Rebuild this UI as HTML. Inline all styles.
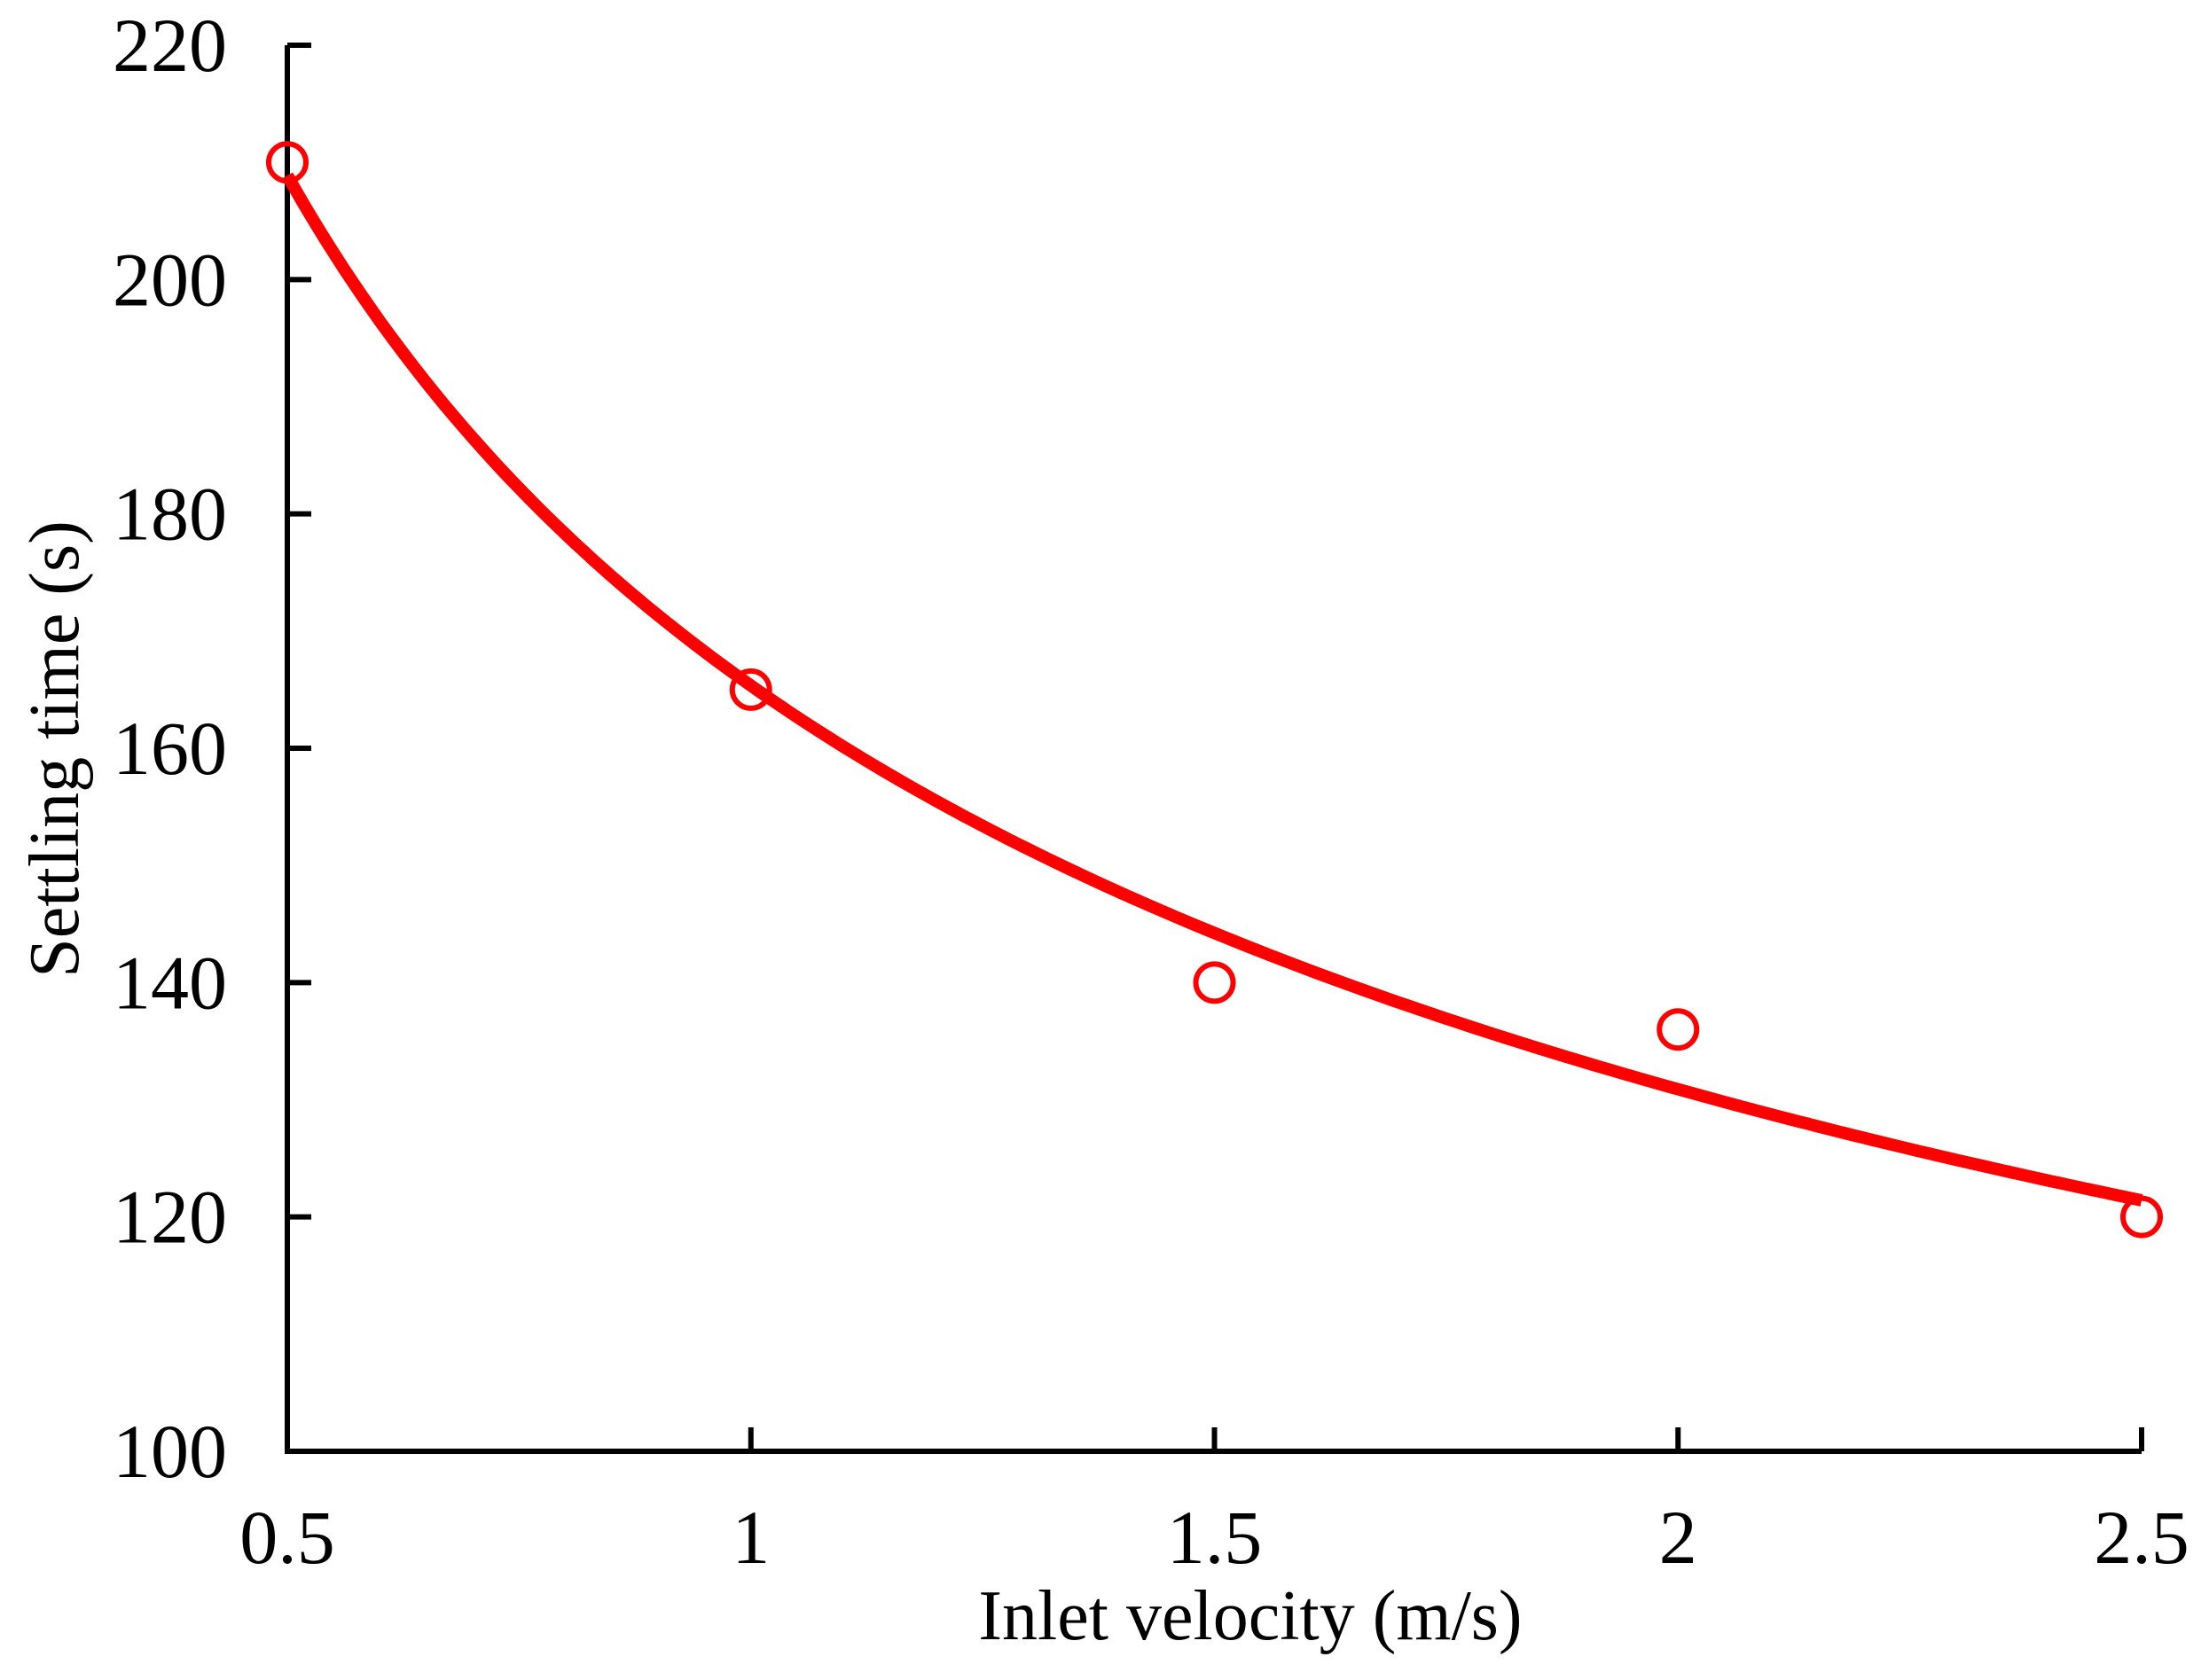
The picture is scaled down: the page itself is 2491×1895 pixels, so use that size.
<!DOCTYPE html>
<html><head><meta charset="utf-8"><style>
html,body{margin:0;padding:0;background:#fff;}
svg{display:block;font-family:"Liberation Serif","Times New Roman",serif;}
</style></head><body>
<svg id="chart" width="2491" height="1895" viewBox="0 0 2491 1895" xmlns="http://www.w3.org/2000/svg">
<g id="axes"></g>
<g id="plot"></g>
<text x="1410" y="1849" font-size="80" text-anchor="middle">Inlet velocity (m/s)</text>
<text transform="translate(88,845) rotate(-90)" font-size="80" text-anchor="middle">Settling time (s)</text>
</svg>
<script>
const xValues = [0.5, 1, 1.5, 2, 2.5];
const yValues = [210, 165, 140, 136, 120];
const xTicks = [0.5, 1, 1.5, 2, 2.5];
const xTickLabels = ["0.5", "1", "1.5", "2", "2.5"];
const yTicks = [100, 120, 140, 160, 180, 200, 220];
const yTickLabels = ["100", "120", "140", "160", "180", "200", "220"];

const L = 324, R = 2415, T = 51, B = 1637;
const xMin = 0.5, xMax = 2.5, yMin = 100, yMax = 220;
const sx = v => L + (v - xMin) / (xMax - xMin) * (R - L);
const sy = v => B - (v - yMin) / (yMax - yMin) * (B - T);
const NS = "http://www.w3.org/2000/svg";
function mk(tag, attrs, parent) {
  const e = document.createElementNS(NS, tag);
  for (const k in attrs) e.setAttribute(k, attrs[k]);
  parent.appendChild(e);
  return e;
}
const axes = document.getElementById('axes');
const plot = document.getElementById('plot');

let a = mk('path', {d: `M${L} ${T} V${B} H${R}`, fill: 'none', stroke: '#000', 'stroke-width': 6, 'stroke-linejoin': 'miter'}, axes);



yTicks.forEach((v, i) => {
  const y = sy(v);
  const t = mk('line', {x1: L, x2: L + 27, y1: y, y2: y, stroke: '#000', 'stroke-width': 6}, axes);
  
  
  const lb = mk('text', {x: 256, y: y + 29, 'font-size': 86, 'text-anchor': 'end'}, axes);
  lb.textContent = yTickLabels[i];
  
  
});
xTicks.forEach((v, i) => {
  const x = sx(v);
  const t = mk('line', {x1: x, x2: x, y1: B, y2: B - 27, stroke: '#000', 'stroke-width': 6}, axes);
  
  
  const lb = mk('text', {x: x, y: 1763, 'font-size': 86, 'text-anchor': 'middle'}, axes);
  lb.textContent = xTickLabels[i];
  
  
});

// power-law trendline fitted from data (log-log least squares)
const n = xValues.length;
let sX = 0, sY = 0, sXX = 0, sXY = 0;
for (let i = 0; i < n; i++) {
  const lx = Math.log(xValues[i]), ly = Math.log(yValues[i]);
  sX += lx; sY += ly; sXX += lx * lx; sXY += lx * ly;
}
const b = (n * sXY - sX * sY) / (n * sXX - sX * sX);
const A = Math.exp((sY - b * sX) / n);
let d = '';
const x0 = Math.min(...xValues), x1 = Math.max(...xValues);
for (let k = 0; k <= 200; k++) {
  const xv = x0 + (x1 - x0) * k / 200;
  d += (k ? 'L' : 'M') + sx(xv).toFixed(1) + ' ' + sy(A * Math.pow(xv, b)).toFixed(1);
}
const tl = mk('path', {d: d, fill: 'none', stroke: '#ff0000', 'stroke-width': 14, 'stroke-linecap': 'butt'}, plot);



xValues.forEach((xv, i) => {
  const c = mk('circle', {cx: sx(xv), cy: sy(yValues[i]), r: 21, fill: 'none', stroke: '#ff0000', 'stroke-width': 6}, plot);
  
  
});
</script>
</body></html>
